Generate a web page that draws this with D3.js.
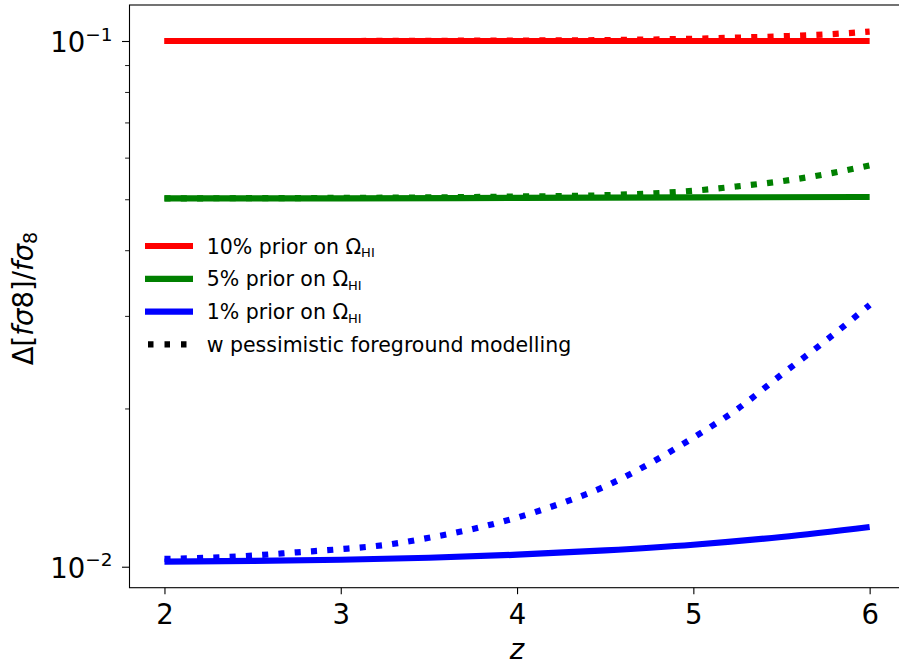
<!DOCTYPE html>
<html>
<head>
<meta charset="utf-8">
<script src="https://cdn.jsdelivr.net/npm/d3@7"></script>
<style>
  html, body { margin: 0; padding: 0; background: #fff; overflow: hidden; }
  svg { display: block; font-family: "DejaVu Sans", sans-serif; }
</style>
</head>
<body>
<svg id="chart" width="899" height="665"></svg>
<script>
// ---- data ----
const redSolidZ = [2, 3, 4, 5, 6];
const redSolid  = [0.1000, 0.1000, 0.1000, 0.1000, 0.1000];
const redDotZ   = [2, 3, 3.5, 4, 4.5, 5, 5.25, 5.5, 5.75, 6];
const redDot    = [0.1000, 0.1000, 0.1001, 0.1002, 0.1004, 0.1010, 0.1015, 0.1021, 0.1029, 0.1042];

const greenSolidZ = [2, 3, 4, 5, 6];
const greenSolid  = [0.0502, 0.0502, 0.0503, 0.0504, 0.0505];
const greenDotZ   = [2, 3, 3.5, 4, 4.5, 5, 5.25, 5.5, 5.75, 6];
const greenDot    = [0.0502, 0.0503, 0.0504, 0.0506, 0.0509, 0.0519, 0.0529, 0.0541, 0.0558, 0.0580];

const blueSolidZ = [2, 2.5, 3, 3.5, 4, 4.5, 5, 5.5, 6];
const blueSolid  = [0.01023, 0.01026, 0.01031, 0.01040, 0.01054, 0.01074, 0.01101, 0.01139, 0.0119];
const blueDotZ   = [2, 2.25, 2.5, 2.75, 3, 3.25, 3.5, 3.75, 4, 4.25, 4.5, 4.75, 5, 5.25, 5.5, 5.75, 6];
const blueDot    = [0.01035, 0.0104, 0.0105, 0.01065, 0.0108, 0.0110, 0.01135, 0.0118, 0.0124, 0.0132, 0.01422, 0.0157, 0.0176, 0.01995, 0.0232, 0.0269, 0.03147];

const xTicks = [2, 3, 4, 5, 6];
const yMajorTicks = [0.1, 0.01];
const yMajorExp = ["\u22121", "\u22122"];
const yMinorTicks = [0.02, 0.03, 0.04, 0.05, 0.06, 0.07, 0.08, 0.09];

const legendLabels = ["10% prior on ", "5% prior on ", "1% prior on "];
const legendColors = ["#ff0000", "#008000", "#0000ff"];
const legendDotLabel = "w pessimistic foreground modelling";

// ---- layout ----
const svg = d3.select("#chart");
svg.append("rect").attr("width", 899).attr("height", 665).attr("fill", "#fff");

const pLeft = 129.5, pRight = 905, pTop = 5, pBottom = 587.7;
const x = d3.scaleLinear().domain([1.8, 6.2]).range([129.2, 904.9]);
const y = d3.scaleLog().domain([0.009122, 0.11708]).range([pBottom, pTop]);

const line = d3.line().x(d => x(d[0])).y(d => y(d[1])).curve(d3.curveMonotoneX);
const LW = 6.2;
function drawSeries(zs, vs, color, dotted) {
  const p = svg.append("path")
    .datum(zs.map((z, i) => [z, vs[i]]))
    .attr("d", line)
    .attr("fill", "none")
    .attr("stroke", color)
    .attr("stroke-width", LW)
    .attr("stroke-linecap", "butt");
  if (dotted) p.attr("stroke-dasharray", "6.1,10.2");
}
drawSeries(redSolidZ, redSolid, "#ff0000", false);
drawSeries(redDotZ, redDot, "#ff0000", true);
drawSeries(greenSolidZ, greenSolid, "#008000", false);
drawSeries(greenDotZ, greenDot, "#008000", true);
drawSeries(blueSolidZ, blueSolid, "#0000ff", false);
drawSeries(blueDotZ, blueDot, "#0000ff", true);

// ---- spines ----
svg.append("rect")
  .attr("x", pLeft).attr("y", pTop)
  .attr("width", pRight - pLeft).attr("height", pBottom - pTop)
  .attr("fill", "none").attr("stroke", "#000").attr("stroke-width", 1.1);

// ---- x axis ----
const xAxis = d3.axisBottom(x).tickValues(xTicks).tickSize(6.5).tickPadding(4).tickFormat(d3.format("d"));
const gx = svg.append("g").attr("transform", `translate(0,${pBottom})`).call(xAxis);
gx.select(".domain").remove();
gx.selectAll(".tick line").attr("stroke", "#000").attr("stroke-width", 1.1);
gx.selectAll(".tick text")
  .attr("font-size", 27.5).attr("fill", "#000")
  .attr("font-family", "DejaVu Sans")
  .attr("dy", null).attr("y", 36.3);

// ---- y axis ----
const gyMinor = svg.append("g").attr("transform", `translate(${pLeft},0)`)
  .call(d3.axisLeft(y).tickValues(yMinorTicks).tickSize(4.4).tickFormat(""));
gyMinor.select(".domain").remove();
gyMinor.selectAll(".tick line").attr("stroke", "#000").attr("stroke-width", 0.9);

const gy = svg.append("g").attr("transform", `translate(${pLeft},0)`)
  .call(d3.axisLeft(y).tickValues(yMajorTicks).tickSize(7.5).tickFormat(""));
gy.select(".domain").remove();
gy.selectAll(".tick line").attr("stroke", "#000").attr("stroke-width", 1.1);
gy.selectAll(".tick").each(function(d, i) {
  const t = d3.select(this).append("text")
    .attr("x", -17).attr("y", 10.7)
    .attr("text-anchor", "end").attr("fill", "#000")
    .attr("font-family", "DejaVu Sans");
  t.append("tspan").attr("font-size", 27.5).text("10");
  t.append("tspan").attr("font-size", 18.5).attr("dy", -11.5).text(yMajorExp[i]);
});

// ---- axis labels ----
const yl = svg.append("text")
  .attr("transform", "translate(33,298.5) rotate(-90)")
  .attr("text-anchor", "middle").attr("font-size", 27.5).attr("fill", "#000")
  .attr("font-family", "DejaVu Sans");
yl.append("tspan").text("\u0394[");
yl.append("tspan").attr("font-style", "italic").text("f\u03c3");
yl.append("tspan").text("8]/");
yl.append("tspan").attr("font-style", "italic").text("f\u03c3");
yl.append("tspan").attr("font-size", 19).attr("dy", 4).text("8");

svg.append("text")
  .attr("x", x(4)).attr("y", 659)
  .attr("text-anchor", "middle").attr("font-size", 27.5).attr("font-style", "italic")
  .attr("fill", "#000").attr("font-family", "DejaVu Sans")
  .text("z");

// ---- legend ----
const legX0 = 145, legX1 = 193, legTextX = 206.7, legY0 = 246, legDY = 32.8;
legendLabels.forEach((lab, i) => {
  const yy = legY0 + i * legDY;
  svg.append("line").attr("x1", legX0).attr("x2", legX1).attr("y1", yy).attr("y2", yy)
    .attr("stroke", legendColors[i]).attr("stroke-width", LW);
  const t = svg.append("text").attr("x", legTextX).attr("y", yy + 7.5)
    .attr("font-size", 20.5).attr("fill", "#000").attr("font-family", "DejaVu Sans");
  t.append("tspan").text(lab + "\u03a9");
  t.append("tspan").attr("font-size", 13).attr("dy", 3.5).text("HI");
});
{
  const yy = legY0 + 3 * legDY;
  svg.append("line").attr("x1", legX0).attr("x2", legX1).attr("y1", yy).attr("y2", yy)
    .attr("stroke", "#000").attr("stroke-width", LW)
    .attr("stroke-dasharray", "5.5,11").attr("stroke-dashoffset", -3);
  svg.append("text").attr("x", legTextX).attr("y", yy + 7.5)
    .attr("font-size", 20.5).attr("fill", "#000").attr("font-family", "DejaVu Sans")
    .text(legendDotLabel);
}
</script>
</body>
</html>
